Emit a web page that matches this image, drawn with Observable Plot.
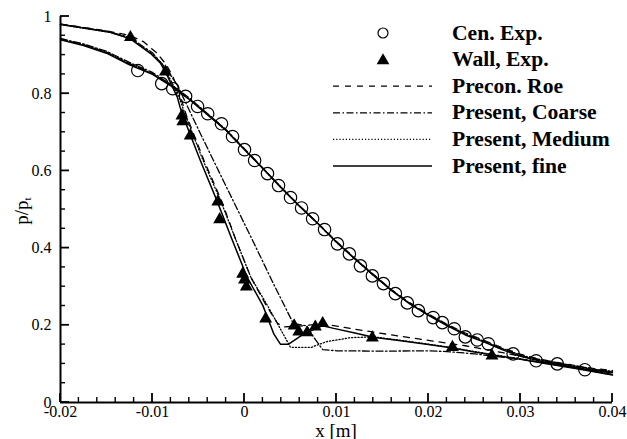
<!DOCTYPE html>
<html><head><meta charset="utf-8">
<script src="https://cdn.jsdelivr.net/npm/d3@7"></script>
<script src="https://cdn.jsdelivr.net/npm/@observablehq/plot@0.6"></script>
<style>
body{margin:0;background:#fff;}
#wrap{position:relative;width:627px;height:439px;font-family:"Liberation Serif","Times New Roman",serif;color:#000;overflow:hidden;}
#ylab{position:absolute;left:22px;top:211px;transform:translate(-50%,-50%) rotate(-90deg);font-size:19px;white-space:nowrap;line-height:1;}
#ylab sub{font-size:11px;vertical-align:-3px;}
#xlab{position:absolute;left:336px;top:430px;transform:translate(-50%,-50%);font-size:19px;white-space:nowrap;line-height:1;}
#legend{position:absolute;left:0;top:0;pointer-events:none;}
</style></head>
<body><div id="wrap"><div id="ylab">p/p<sub>t</sub></div><div id="xlab">x [m]</div></div>
<script>
// ---- data ----
const xTicks = [-0.02, -0.01, 0, 0.01, 0.02, 0.03, 0.04];
const yTicks = [0, 0.2, 0.4, 0.6, 0.8, 1];
const legendLabels = ["Cen. Exp.", "Wall, Exp.", "Precon. Roe", "Present, Coarse", "Present, Medium", "Present, fine"];

const cenExp = [[-0.0116,0.860],[-0.0090,0.826],[-0.0078,0.813],[-0.0064,0.793],[-0.0051,0.767],[-0.0040,0.748],[-0.0025,0.722],[-0.0013,0.689],[0.0000,0.655],[0.0011,0.627],[0.0025,0.593],[0.0037,0.562],[0.0050,0.531],[0.0062,0.504],[0.0074,0.476],[0.0087,0.448],[0.0101,0.411],[0.0114,0.385],[0.0126,0.354],[0.0139,0.328],[0.0151,0.308],[0.0164,0.282],[0.0177,0.258],[0.0189,0.238],[0.0205,0.220],[0.0215,0.207],[0.0228,0.191],[0.0240,0.170],[0.0253,0.162],[0.0265,0.152],[0.0292,0.126],[0.0317,0.108],[0.0340,0.100],[0.0370,0.085]];

const wallExp = [[-0.0124,0.946],[-0.0086,0.857],[-0.0068,0.743],[-0.0067,0.728],[-0.0059,0.691],[-0.0029,0.520],[-0.0027,0.474],[-0.0002,0.333],[0.0000,0.318],[0.0002,0.300],[0.0023,0.217],[0.0054,0.199],[0.0059,0.183],[0.0068,0.181],[0.0077,0.196],[0.0085,0.205],[0.0139,0.168],[0.0226,0.143],[0.0269,0.121]];

// centerline computations
const centerFine = [[-0.020,0.940],[-0.0175,0.925],[-0.015,0.905],[-0.0125,0.875],[-0.010,0.850],[-0.008,0.820],[-0.006,0.785],[-0.004,0.745],[-0.002,0.705],[0.000,0.655],[0.002,0.606],[0.004,0.556],[0.006,0.508],[0.008,0.463],[0.010,0.415],[0.012,0.372],[0.014,0.330],[0.016,0.290],[0.018,0.255],[0.020,0.226],[0.022,0.199],[0.024,0.175],[0.026,0.157],[0.028,0.137],[0.030,0.120],[0.032,0.108],[0.034,0.099],[0.036,0.090],[0.038,0.083],[0.040,0.077]];
const centerRoe = [[-0.020,0.942],[-0.0175,0.927],[-0.015,0.907],[-0.0125,0.878],[-0.010,0.852],[-0.008,0.822],[-0.006,0.787],[-0.004,0.747],[-0.002,0.706],[0.000,0.657],[0.002,0.607],[0.004,0.557],[0.006,0.509],[0.008,0.464],[0.010,0.417],[0.012,0.374],[0.014,0.332],[0.016,0.292],[0.018,0.258],[0.020,0.229],[0.022,0.203],[0.024,0.180],[0.026,0.161],[0.028,0.142],[0.030,0.125],[0.032,0.113],[0.034,0.103],[0.036,0.095],[0.038,0.088],[0.040,0.083]];
const centerCoarse = [[-0.020,0.943],[-0.0175,0.929],[-0.015,0.910],[-0.0125,0.881],[-0.010,0.855],[-0.008,0.824],[-0.006,0.789],[-0.004,0.748],[-0.002,0.707],[0.000,0.657],[0.002,0.607],[0.004,0.557],[0.006,0.509],[0.008,0.463],[0.010,0.415],[0.012,0.372],[0.014,0.330],[0.016,0.291],[0.018,0.256],[0.020,0.227],[0.022,0.200],[0.024,0.177],[0.026,0.158],[0.028,0.139],[0.030,0.122],[0.032,0.110],[0.034,0.101],[0.036,0.092],[0.038,0.085],[0.040,0.080]];
const centerMedium = [[-0.020,0.941],[-0.0175,0.927],[-0.015,0.908],[-0.0125,0.878],[-0.010,0.852],[-0.008,0.821],[-0.006,0.786],[-0.004,0.746],[-0.002,0.705],[0.000,0.656],[0.002,0.606],[0.004,0.556],[0.006,0.508],[0.008,0.463],[0.010,0.416],[0.012,0.373],[0.014,0.331],[0.016,0.291],[0.018,0.256],[0.020,0.227],[0.022,0.201],[0.024,0.178],[0.026,0.159],[0.028,0.140],[0.030,0.123],[0.032,0.111],[0.034,0.102],[0.036,0.093],[0.038,0.086],[0.040,0.081]];

// wall computations
const wallFine = [[-0.020,0.980],[-0.0146,0.959],[-0.0124,0.942],[-0.0102,0.904],[-0.0091,0.878],[-0.0084,0.847],[-0.0079,0.821],[-0.0073,0.791],[-0.0070,0.765],[-0.0067,0.743],[-0.0048,0.627],[-0.0030,0.523],[-0.0013,0.419],[0.0003,0.324],[0.0020,0.251],[0.0032,0.177],[0.0039,0.151],[0.0048,0.151],[0.0064,0.177],[0.0085,0.199],[0.0097,0.192],[0.012,0.180],[0.014,0.169],[0.017,0.160],[0.020,0.150],[0.0226,0.141],[0.025,0.131],[0.027,0.123],[0.030,0.112],[0.033,0.100],[0.036,0.088],[0.040,0.071]];
const wallRoe = [[-0.020,0.980],[-0.015,0.963],[-0.0125,0.951],[-0.011,0.935],[-0.0095,0.905],[-0.0085,0.875],[-0.0078,0.845],[-0.0072,0.810],[-0.0063,0.743],[-0.0044,0.627],[-0.0025,0.523],[-0.0009,0.419],[0.0007,0.324],[0.0024,0.250],[0.0036,0.205],[0.0043,0.196],[0.0060,0.198],[0.0085,0.204],[0.012,0.190],[0.016,0.175],[0.020,0.161],[0.024,0.147],[0.027,0.134],[0.030,0.120],[0.035,0.100],[0.040,0.077]];
const wallCoarse = [[-0.020,0.980],[-0.015,0.962],[-0.0125,0.946],[-0.010,0.906],[-0.0085,0.864],[-0.0073,0.822],[-0.0065,0.782],[-0.0048,0.697],[-0.0020,0.560],[0.0009,0.419],[0.0030,0.315],[0.0053,0.205],[0.0068,0.198],[0.0075,0.170],[0.0085,0.137],[0.010,0.134],[0.015,0.133],[0.020,0.134],[0.022,0.132],[0.025,0.126],[0.027,0.120],[0.030,0.112],[0.035,0.094],[0.040,0.073]];
const wallMedium = [[-0.020,0.979],[-0.0146,0.959],[-0.0124,0.943],[-0.0102,0.906],[-0.0090,0.879],[-0.0083,0.848],[-0.0077,0.820],[-0.0071,0.790],[-0.0064,0.743],[-0.0045,0.627],[-0.0026,0.523],[-0.0009,0.419],[0.0007,0.324],[0.0025,0.251],[0.0038,0.195],[0.0050,0.143],[0.0073,0.143],[0.0078,0.148],[0.0090,0.158],[0.0115,0.168],[0.014,0.170],[0.017,0.161],[0.020,0.151],[0.0226,0.142],[0.025,0.132],[0.027,0.124],[0.030,0.113],[0.033,0.101],[0.036,0.089],[0.040,0.072]];

// ---- drawing ----
const W = 627, H = 439, ML = 60, MR = 15, MT = 16, MB = 37;
const X0 = -0.02, X1 = 0.04, Y0 = 0, Y1 = 1;
const toObj = a => a.map(([x, y]) => ({x, y}));
const fmt = d => (d === 0 ? "0" : String(d));
const xMinor = d3.range(-0.02, 0.0401, 0.002).map(v => +v.toFixed(4)).filter(v => !xTicks.some(t => Math.abs(t - v) < 1e-9));
const yMinor = d3.range(0, 1.001, 0.05).map(v => +v.toFixed(3)).filter(v => !yTicks.some(t => Math.abs(t - v) < 1e-9));

const styles = {
  roe: {strokeDasharray: "6,6", strokeWidth: 1.3},
  coarse: {strokeDasharray: "7,2.5,1.5,2.5", strokeWidth: 1.3},
  medium: {strokeDasharray: "1.2,2", strokeWidth: 1.3},
  fine: {strokeWidth: 1.5}
};
const lineMark = (arr, st) => Plot.line(toObj(arr), {x: "x", y: "y", stroke: "#000", curve: "linear", ...st});

const chart = Plot.plot({
  width: W, height: H,
  marginLeft: ML, marginRight: MR, marginTop: MT, marginBottom: MB,
  x: {domain: [X0, X1], axis: null},
  y: {domain: [Y0, Y1], axis: null},
  style: {fontFamily: "'Liberation Serif', 'Times New Roman', serif", fontSize: "16px", color: "#000", background: "#fff", overflow: "visible"},
  marks: [
    lineMark(centerRoe, styles.roe),
    lineMark(centerCoarse, styles.coarse),
    lineMark(centerMedium, styles.medium),
    lineMark(centerFine, styles.fine),
    lineMark(wallRoe, styles.roe),
    lineMark(wallCoarse, styles.coarse),
    lineMark(wallMedium, styles.medium),
    lineMark(wallFine, styles.fine),
    Plot.dot(toObj(cenExp), {x: "x", y: "y", r: 6.2, stroke: "#000", strokeWidth: 1.2, fill: "none"}),
    Plot.dot(toObj(wallExp), {x: "x", y: "y", r: 4.8, symbol: "triangle", fill: "#000", stroke: "none"}),
    Plot.axisX(xTicks, {anchor: "bottom", tickSize: 0, tickPadding: 3, tickFormat: fmt, fontSize: 16, label: null}),
    Plot.axisY(yTicks, {anchor: "left", tickSize: 0, tickPadding: 9, tickFormat: fmt, fontSize: 16, label: null}),
    Plot.ruleY([Y0], {stroke: "#000", strokeWidth: 2}),
    Plot.ruleX([X0], {stroke: "#000", strokeWidth: 2})
  ]
});
document.getElementById("wrap").prepend(chart);

// ---- overlay: inward ticks (via the chart's own scales) and legend ----
const scX = chart.scale("x"), scY = chart.scale("y");
const fx = d3.scaleLinear().domain(scX.domain).range(scX.range);
const fy = d3.scaleLinear().domain(scY.domain).range(scY.range);
const ov = d3.select("#wrap").append("svg").attr("id", "legend").attr("width", W).attr("height", H);
const tg = ov.append("g").attr("stroke", "#000").attr("fill", "none").attr("stroke-linecap", "butt");
const px0 = fx(X0), py0 = fy(Y0);
const addX = (vals, len, w) => vals.forEach(v => tg.append("line").attr("x1", fx(v)).attr("x2", fx(v)).attr("y1", py0).attr("y2", py0 - len).attr("stroke-width", w));
const addY = (vals, len, w) => vals.forEach(v => tg.append("line").attr("y1", fy(v)).attr("y2", fy(v)).attr("x1", px0).attr("x2", px0 + len).attr("stroke-width", w));
addX(xMinor, 5, 1.4); addX(xTicks, 9, 1.8);
addY(yMinor, 5, 1.4); addY(yTicks, 9, 1.8);

const legendKinds = ["circle", "triangle", "roe", "coarse", "medium", "fine"];
const rowY0 = 33, rowDy = 26.6, symX = 383, lineX1 = 333, lineX2 = 432, textX = 452;
legendLabels.forEach((lab, i) => {
  const y = rowY0 + i * rowDy;
  const k = legendKinds[i];
  if (k === "circle") {
    ov.append("circle").attr("cx", symX).attr("cy", y).attr("r", 5).attr("fill", "none").attr("stroke", "#000").attr("stroke-width", 1.2);
  } else if (k === "triangle") {
    ov.append("path").attr("d", d3.symbol(d3.symbolTriangle, 70)()).attr("transform", `translate(${symX},${y + 1})`).attr("fill", "#000");
  } else {
    const st = styles[k];
    ov.append("line").attr("x1", lineX1).attr("x2", lineX2).attr("y1", y).attr("y2", y)
      .attr("stroke", "#000").attr("stroke-width", st.strokeWidth).attr("stroke-dasharray", st.strokeDasharray || null);
  }
  ov.append("text").attr("transform", `translate(${textX},${y + 6.5}) scale(1.08,1)`).text(lab)
    .attr("font-family", "'Liberation Serif', 'Times New Roman', serif").attr("font-weight", "bold").attr("font-size", 20).attr("fill", "#000");
});
</script>
</body></html>
